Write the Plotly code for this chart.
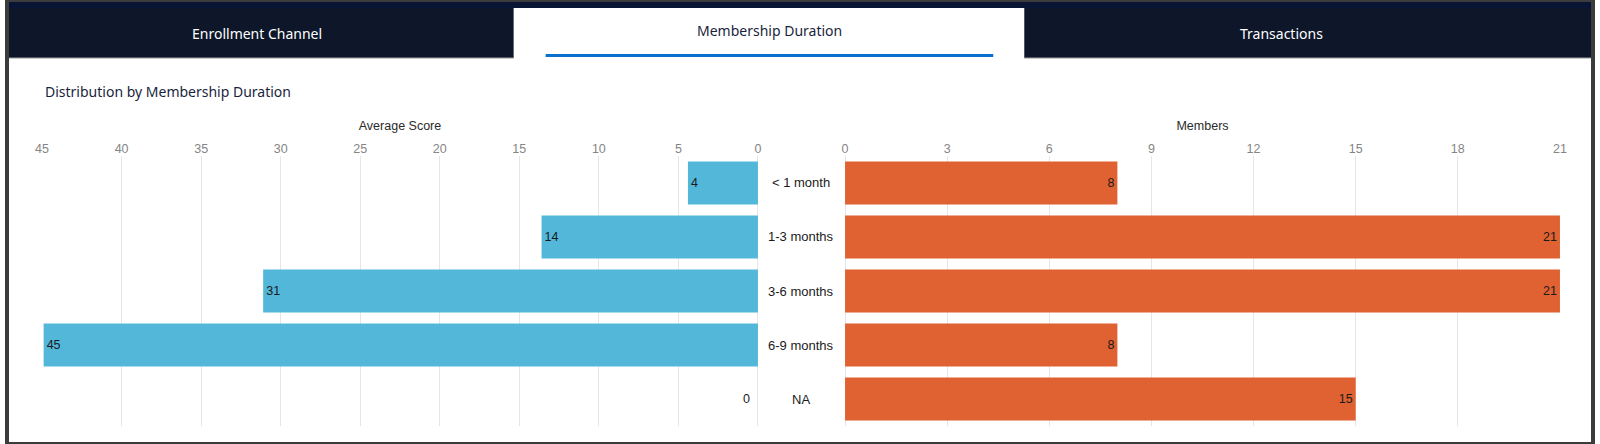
import plotly.graph_objects as go

# --- data ------------------------------------------------------------------
DURATIONS = ["< 1 month", "1-3 months", "3-6 months", "6-9 months", "NA"]
AVG_SCORE = [4.4, 13.6, 31.1, 44.9, 0]
MEMBERS = [8, 21, 21, 8, 15]
TABS = ["Enrollment Channel", "Membership Duration", "Transactions"]
ACTIVE_TAB = 1
SUBTITLE = "Distribution by Membership Duration"

# --- look ------------------------------------------------------------------
W, H = 1600, 444
# the page lays the plot out 1584px wide, 8px in from the left edge
OFFSET_X, PLOT_W = 8, 1584
NAVY = "#0d1729"
NAVY_TOP = "#0a1535"
ACCENT = "#0b6fce"
BLUE = "#53b7da"
ORANGE = "#e06131"
GRID = "#e6e6e6"
INK = "#1b1b1b"
TICK = "#858585"
CHART_FONT = "Liberation Sans, Arial, sans-serif"
UI_FONT = "Noto Sans, sans-serif"
VALUE_FONT = dict(color=INK, size=12.5, family=CHART_FONT)


def px(x):
    """Screen x pixel -> paper fraction."""
    return (x - OFFSET_X) / PLOT_W


def py(y):
    """Screen y pixel -> paper fraction."""
    return 1 - y / H


def bar_labels(values):
    # zero-length bars get a separate label next to the baseline
    return [f"{v:.0f}" if v else "" for v in values]


fig = go.Figure()

for values, axis, color, name in [
    (AVG_SCORE, "x", BLUE, "Average Score"),
    (MEMBERS, "x2", ORANGE, "Members"),
]:
    fig.add_trace(
        go.Bar(
            y=DURATIONS, x=values, orientation="h", xaxis=axis, yaxis="y",
            marker=dict(color=color, line=dict(width=0)),
            text=bar_labels(values), textposition="inside", insidetextanchor="end",
            textangle=0, insidetextfont=VALUE_FONT, outsidetextfont=VALUE_FONT,
            name=name, hovertemplate="%{y}: %{x}<extra>" + name + "</extra>",
        )
    )

# labels for zero values sit just outside the zero line
for values, axis, sign in [(AVG_SCORE, "x", -1), (MEMBERS, "x2", 1)]:
    for cat, v in zip(DURATIONS, values):
        if v == 0:
            fig.add_annotation(
                x=v, xref=axis, y=cat, yref="y", text=f"{v:.0f}", showarrow=False,
                xanchor="right" if sign < 0 else "left", yanchor="middle",
                xshift=6 * sign, font=VALUE_FONT,
            )

axis_common = dict(
    side="top", anchor="y", showgrid=True, gridcolor=GRID, gridwidth=1,
    zeroline=True, zerolinecolor=GRID, zerolinewidth=1, showline=False,
    ticks="", tickfont=dict(color=TICK, size=12.5, family=CHART_FONT),
    fixedrange=True,
)
fig.update_layout(
    width=W, height=H,
    margin=dict(l=0, r=0, t=0, b=0),
    paper_bgcolor="white", plot_bgcolor="white",
    font=dict(family=CHART_FONT, color=INK),
    showlegend=False,
    bargap=0.2,
    xaxis=dict(
        domain=[px(43), px(758)], range=[45, 0], dtick=5,
        title=dict(text="Average Score", standoff=8,
                   font=dict(size=12.5, color="#2a2a2a")),
        **axis_common,
    ),
    xaxis2=dict(
        domain=[px(845), px(1559)], range=[0, 21], dtick=3,
        title=dict(text="Members", standoff=8,
                   font=dict(size=12.5, color="#2a2a2a")),
        **axis_common,
    ),
    yaxis=dict(
        domain=[py(426), py(156)], autorange="reversed",
        showticklabels=False, showgrid=False, zeroline=False, fixedrange=True,
    ),
)

# category labels between the two halves
for cat in DURATIONS:
    fig.add_annotation(
        x=px(801), xref="paper", y=cat, yref="y", text=cat, showarrow=False,
        xanchor="center", yanchor="middle",
        font=dict(size=13, color=INK, family=CHART_FONT),
    )

# tab strip
shapes = [
    dict(type="rect", xref="paper", yref="paper", x0=0, x1=1, y0=py(58), y1=1,
         fillcolor=NAVY, line=dict(width=0), layer="below"),
    dict(type="rect", xref="paper", yref="paper", x0=0, x1=1, y0=py(8), y1=1,
         fillcolor=NAVY_TOP, line=dict(width=0), layer="below"),
    dict(type="rect", xref="paper", yref="paper", x0=px(514), x1=px(1024),
         y0=py(58), y1=py(8), fillcolor="white", line=dict(width=0), layer="below"),
    dict(type="rect", xref="paper", yref="paper", x0=px(546), x1=px(993),
         y0=py(57), y1=py(54), fillcolor=ACCENT, line=dict(width=0)),
    dict(type="line", xref="paper", yref="paper", x0=0, x1=px(514),
         y0=py(58), y1=py(58), line=dict(color="#9a9a9a", width=1)),
    dict(type="line", xref="paper", yref="paper", x0=px(1024), x1=1,
         y0=py(58), y1=py(58), line=dict(color="#9a9a9a", width=1)),
    # outer frame
    dict(type="rect", xref="paper", yref="paper", x0=0, x1=1, y0=0, y1=1,
         line=dict(color="#3c3c3c", width=4), fillcolor="rgba(0,0,0,0)"),
]
fig.update_layout(shapes=shapes)

tab_x = [258, 770, 1281]
for i, (label, cx) in enumerate(zip(TABS, tab_x)):
    active = i == ACTIVE_TAB
    fig.add_annotation(
        x=px(cx), y=py(31 if active else 33), xref="paper", yref="paper",
        xanchor="center", yanchor="middle",
        text=label, showarrow=False,
        font=dict(family=UI_FONT, size=14, color="#1a1f3d" if active else "white"),
    )

fig.add_annotation(
    x=px(44), y=py(91), xref="paper", yref="paper", xanchor="left", yanchor="middle",
    text=SUBTITLE, showarrow=False,
    font=dict(family=UI_FONT, size=14, color="#1a1f3d"),
)

fig.write_html(
    "out.html",
    config=dict(displayModeBar=False),
    post_script="document.body.style.margin='0';document.body.style.overflow='hidden';",
)
